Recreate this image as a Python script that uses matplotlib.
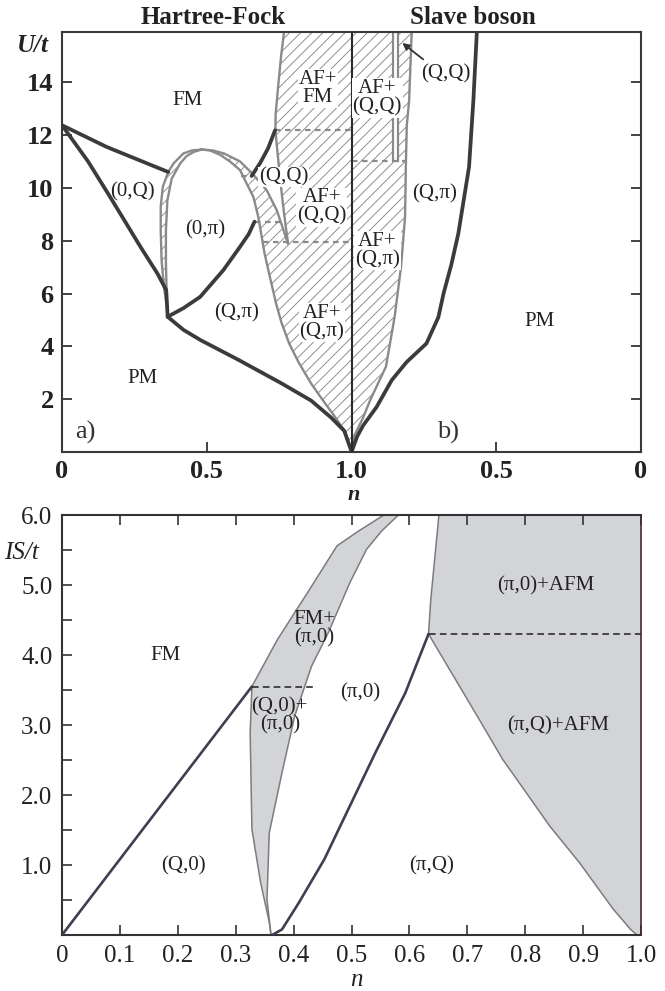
import matplotlib
matplotlib.use('Agg')
import matplotlib.pyplot as plt
import numpy as np
from matplotlib.patches import Polygon

plt.rcParams['font.family'] = ['Liberation Serif', 'DejaVu Serif']
plt.rcParams['hatch.linewidth'] = 0.7

# ---------------- top panel data (n, U/t) ----------------
# Hartree-Fock side (left half, x = n)
hf_fm_0q_n = [0.0, 0.154, 0.367]
hf_fm_0q_u = [12.37, 11.55, 10.6]
hf_0q_pm_n = [0.0, 0.09, 0.166, 0.272, 0.330, 0.360, 0.365]
hf_0q_pm_u = [12.37, 11.0, 9.66, 7.75, 6.75, 6.13, 5.12]
hf_pm_qpi_n = [0.365, 0.42, 0.478, 0.611, 0.758, 0.86, 0.93, 0.975, 1.0]
hf_pm_qpi_u = [5.12, 4.62, 4.24, 3.48, 2.60, 1.95, 1.3, 0.8, 0.02]
hf_0pi_qpi_n = [0.365, 0.42, 0.477, 0.557, 0.615, 0.645, 0.665]
hf_0pi_qpi_u = [5.12, 5.45, 5.87, 6.88, 7.77, 8.25, 8.72]
hf_fm_qq_n = [0.655, 0.685, 0.712, 0.736]
hf_fm_qq_u = [10.45, 10.95, 11.5, 12.18]

lens_outer_left_n = [0.4825, 0.45, 0.419, 0.385, 0.367, 0.348, 0.341, 0.341, 0.344, 0.352, 0.362, 0.365]
lens_outer_left_u = [11.45, 11.42, 11.30, 10.92, 10.60, 10.03, 9.28, 8.40, 7.26, 6.25, 5.5, 5.15]
lens_inner_left_n = [0.4825, 0.455, 0.43, 0.408, 0.379, 0.364, 0.359, 0.359, 0.362, 0.365]
lens_inner_left_u = [11.45, 11.36, 11.2, 10.92, 10.35, 9.53, 8.40, 7.14, 5.75, 5.15]

g1_n = [0.4825, 0.51, 0.546, 0.580, 0.615, 0.638, 0.661, 0.678, 0.690, 0.70, 0.718,
        0.74, 0.758, 0.785, 0.817, 0.86, 0.905, 0.945, 0.979, 1.0]
g1_u = [11.45, 11.42, 11.25, 11.0, 10.67, 10.16, 9.66, 8.90, 8.14, 7.5, 6.63,
        5.6, 4.9, 4.1, 3.4, 2.6, 1.9, 1.3, 0.75, 0.0]
g2_n = [0.4825, 0.52, 0.56, 0.615, 0.661, 0.707, 0.742, 0.765, 0.78]
g2_u = [11.45, 11.42, 11.3, 11.0, 10.5, 9.91, 9.15, 8.40, 7.9]
g3_n = [0.767, 0.757, 0.748, 0.738, 0.737, 0.743, 0.752, 0.762, 0.772, 0.781]
g3_u = [15.9, 15.0, 14.0, 12.8, 12.18, 11.5, 10.5, 9.5, 8.6, 7.9]

hf_dash_u = [12.18, 10.45, 8.72, 7.95]
hf_dash_n0 = [0.737, 0.62, 0.668, 0.695]
hf_dash_n1 = [1.0, 0.66, 0.768, 1.0]

# Slave-boson side (right half, plotted at x = 2 - n)
sb_r1_n = [1.0, 0.991, 0.96, 0.936, 0.881, 0.851, 0.829, 0.815, 0.812, 0.809, 0.801, 0.792]
sb_r1_u = [0.0, 0.6, 1.3, 1.95, 3.23, 5.12, 7.0, 8.9, 10.98, 12.37, 13.3, 15.9]
sb_pm_n = [1.0, 0.98, 0.96, 0.913, 0.861, 0.81, 0.741, 0.70, 0.682, 0.655, 0.631, 0.594, 0.579, 0.567]
sb_pm_u = [0.0, 0.6, 1.0, 1.71, 2.72, 3.4, 4.11, 5.1, 6.0, 7.1, 8.27, 10.79, 13.31, 15.9]
sb_strip_n = [0.855, 0.838]
sb_strip_u = [11.0, 15.9]
sb_dash_u = 11.0
sb_dash_n = [1.0, 0.812]

top_xticks = [0, 0.5, 1.0, 1.5, 2.0]
top_xticklabels = ['0', '0.5', '1.0', '0.5', '0']
top_yticks = [2, 4, 6, 8, 10, 12, 14]

# ---------------- bottom panel data (n, IS/t) ----------------
b_fm_n = [0.0, 0.328]
b_fm_is = [0.0, 3.55]
b_dash1_is = 3.55
b_dash1_n = [0.328, 0.438]
b_left_n = [0.361, 0.358, 0.343, 0.328, 0.325, 0.328, 0.372, 0.424, 0.475, 0.512, 0.556]
b_left_is = [0.0, 0.18, 0.75, 1.51, 2.89, 3.55, 4.22, 4.89, 5.56, 5.77, 6.0]
b_right_n = [0.361, 0.354, 0.358, 0.380, 0.402, 0.431, 0.46, 0.497, 0.526, 0.552, 0.581]
b_right_is = [0.0, 0.51, 1.46, 2.32, 3.13, 3.84, 4.32, 5.03, 5.51, 5.77, 6.0]
b_pq_n = [0.363, 0.38, 0.409, 0.453, 0.497, 0.541, 0.593, 0.633]
b_pq_is = [0.0, 0.08, 0.46, 1.08, 1.84, 2.6, 3.46, 4.30]
b_dash2_is = 4.30
b_dash2_n = [0.633, 1.0]
b_up_n = [0.633, 0.637, 0.651]
b_up_is = [4.30, 4.8, 6.0]
b_afm_n = [0.633, 0.666, 0.717, 0.761, 0.802, 0.842, 0.894, 0.923, 0.952, 0.982, 0.993]
b_afm_is = [4.30, 3.84, 3.13, 2.51, 2.03, 1.56, 1.03, 0.70, 0.37, 0.08, 0.0]

bot_xticks = [0, 0.1, 0.2, 0.3, 0.4, 0.5, 0.6, 0.7, 0.8, 0.9, 1.0]
bot_xticklabels = ['0', '0.1', '0.2', '0.3', '0.4', '0.5', '0.6', '0.7', '0.8', '0.9', '1.0']
bot_yticks = [1.0, 2.0, 3.0, 4.0, 5.0, 6.0]
bot_yminor = [0.5, 1.5, 2.5, 3.5, 4.5, 5.5]

# ---------------- styles ----------------
DARK = '#3b3b3b'
GRAY = '#8a8a8a'
HATCH = '#8f8f8f'
NAVY = '#3d3f52'
FILL = '#d3d4d8'

fig = plt.figure(figsize=(6.65, 9.91), dpi=100)
ax = fig.add_axes([62/665, 1-452/991, 579/665, 420/991])
ax2 = fig.add_axes([62/665, 1-935/991, 579/665, 420/991])


def sb(n):
    return [2 - v for v in n]


def hatch_poly(ax, xs, ys, z=1):
    p = Polygon(np.column_stack([xs, ys]), closed=True, facecolor='none',
                edgecolor=HATCH, linewidth=0, hatch='///', zorder=z)
    ax.add_patch(p)

# ---- top: hatched regions ----
hatch_poly(ax, lens_outer_left_n + lens_inner_left_n[::-1],
           lens_outer_left_u + lens_inner_left_u[::-1])
big_x = g1_n + [1.0, g3_n[0]] + g3_n[1:] + g2_n[::-1]
big_y = g1_u + [15.9, 15.9] + g3_u[1:] + g2_u[::-1]
hatch_poly(ax, big_x, big_y)
hatch_poly(ax, sb(sb_r1_n) + [1.0, 1.0], sb_r1_u + [15.9, 0.0])
sx = sb(sb_strip_n)
ax.add_patch(Polygon([[sx[0], sb_strip_u[0]], [sx[1], sb_strip_u[0]], [sx[1], sb_strip_u[1]],
                      [sx[0], sb_strip_u[1]]], closed=True, facecolor='white',
                     edgecolor='none', zorder=1.5))
ax.plot([sx[0], sx[0]], sb_strip_u, color=GRAY, lw=1.6, zorder=2)
ax.plot([sx[1], sx[1]], sb_strip_u, color=GRAY, lw=1.6, zorder=2)

# ---- top: gray lines ----
for xs, ys in [(lens_outer_left_n, lens_outer_left_u), (lens_inner_left_n, lens_inner_left_u),
               (g1_n, g1_u), (g2_n, g2_u), (g3_n, g3_u), (sb(sb_r1_n), sb_r1_u)]:
    ax.plot(xs, ys, color=GRAY, lw=1.7, zorder=2, solid_joinstyle='round')

# ---- top: thick lines ----
for xs, ys in [(hf_fm_0q_n, hf_fm_0q_u), (hf_0q_pm_n, hf_0q_pm_u), (hf_pm_qpi_n, hf_pm_qpi_u),
               (hf_0pi_qpi_n, hf_0pi_qpi_u), (hf_fm_qq_n, hf_fm_qq_u), (sb(sb_pm_n), sb_pm_u)]:
    ax.plot(xs, ys, color=DARK, lw=2.7, zorder=3, solid_joinstyle='round', solid_capstyle='round')
ax.plot([1.0, 1.0], [0, 15.9], color='#2a2a2a', lw=1.5, zorder=3)

# ---- top: dashed lines ----
for u, a, b in zip(hf_dash_u, hf_dash_n0, hf_dash_n1):
    ax.plot([a, b], [u, u], color=GRAY, lw=1.6, ls=(0, (2.5, 2)), zorder=2.5)
ax.plot(sb(sb_dash_n), [sb_dash_u, sb_dash_u], color=GRAY, lw=1.6, ls=(0, (2.5, 2)), zorder=2.5)

# ---- top: labels ----
lab = dict(fontsize=15, ha='center', va='center', color='#222222', zorder=4)
wb = dict(facecolor='white', edgecolor='none', pad=0.6)
ax.text(0.434, 13.3, 'FM', **lab)
ax.text(0.242, 9.85, '(0,Q)', **lab)
ax.text(0.493, 8.4, '(0,π)', **lab)
ax.text(0.603, 5.25, '(Q,π)', **lab)
ax.text(0.279, 2.8, 'PM', **lab)
ax.text(0.765, 10.41, '(Q,Q)', bbox=wb, **lab)
ax.text(0.883, 13.75, 'AF+\nFM', linespacing=0.95, bbox=wb, **lab)
ax.text(0.898, 9.27, 'AF+\n(Q,Q)', linespacing=0.95, bbox=wb, **lab)
ax.text(0.898, 4.9, 'AF+\n(Q,π)', linespacing=0.95, bbox=wb, **lab)
ax.text(1.089, 13.4, 'AF+\n(Q,Q)', linespacing=0.95, bbox=wb, **lab)
ax.text(1.089, 7.63, 'AF+\n(Q,π)', linespacing=0.95, bbox=wb, **lab)
ax.text(1.325, 14.32, '(Q,Q)', **lab)
ax.text(1.288, 9.78, '(Q,π)', **lab)
ax.text(1.649, 4.93, 'PM', **lab)
ax.text(0.08, 0.75, 'a)', fontsize=19, ha='center', va='center', color='#333333')
ax.text(1.333, 0.75, 'b)', fontsize=19, ha='center', va='center', color='#333333')
ax.annotate('', xy=(1.168, 15.55), xytext=(1.255, 14.8),
            arrowprops=dict(arrowstyle='-|>', color='#333333', lw=1.3, mutation_scale=10), zorder=4)

ax.set_xlim(0, 2)
ax.set_ylim(0, 15.9)
ax.set_xticks(top_xticks)
ax.set_xticklabels(top_xticklabels, fontweight='bold')
ax.set_yticks(top_yticks)
ax.set_yticklabels([str(v) for v in top_yticks], fontweight='bold')
ax.tick_params(direction='in', length=7, width=1.3, right=True, top=False,
               labelsize=19, pad=6, colors='#333333', labelcolor='#222222')
for s in ax.spines.values():
    s.set_linewidth(1.5)
    s.set_color('#3a3a3a')

fig.text(213/665, 1-17/991, 'Hartree-Fock', fontsize=18, fontweight='bold', ha='center', va='center', color='#222222')
fig.text(473/665, 1-17/991, 'Slave boson', fontsize=18, fontweight='bold', ha='center', va='center', color='#222222')
fig.text(33/665, 1-45/991, 'U/t', fontsize=18, fontweight='bold', style='italic', ha='center', va='center', color='#222222')
fig.text(354/665, 1-495/991, 'n', fontsize=16, fontweight='bold', style='italic', ha='center', va='center', color='#222222')

# ---------------- bottom panel ----------------
ax2.add_patch(Polygon(np.column_stack([b_left_n + b_right_n[::-1], b_left_is + b_right_is[::-1]]),
                      closed=True, facecolor=FILL, edgecolor='none', zorder=1))
rx = b_up_n[::-1] + b_afm_n[1:] + [1.0, 1.0]
ry = b_up_is[::-1] + b_afm_is[1:] + [0.0, 6.0]
ax2.add_patch(Polygon(np.column_stack([rx, ry]), closed=True, facecolor=FILL, edgecolor='none', zorder=1))

for xs, ys in [(b_left_n, b_left_is), (b_right_n, b_right_is), (b_up_n, b_up_is), (b_afm_n, b_afm_is)]:
    ax2.plot(xs, ys, color='#7c7c7c', lw=1.1, zorder=2)
for xs, ys in [(b_fm_n, b_fm_is), (b_pq_n, b_pq_is)]:
    ax2.plot(xs, ys, color=NAVY, lw=1.9, zorder=3, solid_capstyle='round')
ax2.plot(b_dash1_n, [b_dash1_is] * 2, color='#2e2e2e', lw=1.2, ls=(0, (4, 2.5)), zorder=3)
ax2.plot(b_dash2_n, [b_dash2_is] * 2, color='#2e2e2e', lw=1.2, ls=(0, (4, 2.5)), zorder=3)

lab2 = dict(fontsize=15, ha='center', va='center', color='#222222', zorder=4)
ax2.text(0.178, 3.99, 'FM', **lab2)
ax2.text(0.436, 4.37, 'FM+\n(π,0)', linespacing=0.95, **lab2)
ax2.text(0.376, 3.13, '(Q,0)+\n(π,0)', linespacing=0.95, **lab2)
ax2.text(0.515, 3.46, '(π,0)', **lab2)
ax2.text(0.835, 4.99, '(π,0)+AFM', **lab2)
ax2.text(0.857, 2.99, '(π,Q)+AFM', **lab2)
ax2.text(0.209, 0.99, '(Q,0)', **lab2)
ax2.text(0.638, 0.99, '(π,Q)', **lab2)

ax2.set_xlim(0, 1)
ax2.set_ylim(0, 6)
ax2.set_xticks(bot_xticks)
ax2.set_xticklabels(bot_xticklabels)
ax2.set_yticks(bot_yticks)
ax2.set_yticklabels(['%.1f' % v for v in bot_yticks])
ax2.set_yticks(bot_yminor, minor=True)
ax2.tick_params(which='both', direction='in', top=True, right=False, width=1.2, colors='#333333',
                labelcolor='#222222')
ax2.tick_params(which='major', length=7, labelsize=18, pad=7)
ax2.tick_params(which='minor', length=7)
for s in ax2.spines.values():
    s.set_linewidth(1.5)
    s.set_color('#333333')
ax2.spines['right'].set_color('#4a2a2a')
ax2.spines['right'].set_linewidth(1.2)

fig.text(22/665, 1-553/991, 'IS/t', fontsize=18, style='italic', ha='center', va='center', color='#222222')
fig.text(356/665, 1-980/991, 'n', fontsize=18, style='italic', ha='center', va='center', color='#222222')

fig.savefig('out.png', dpi=100)
